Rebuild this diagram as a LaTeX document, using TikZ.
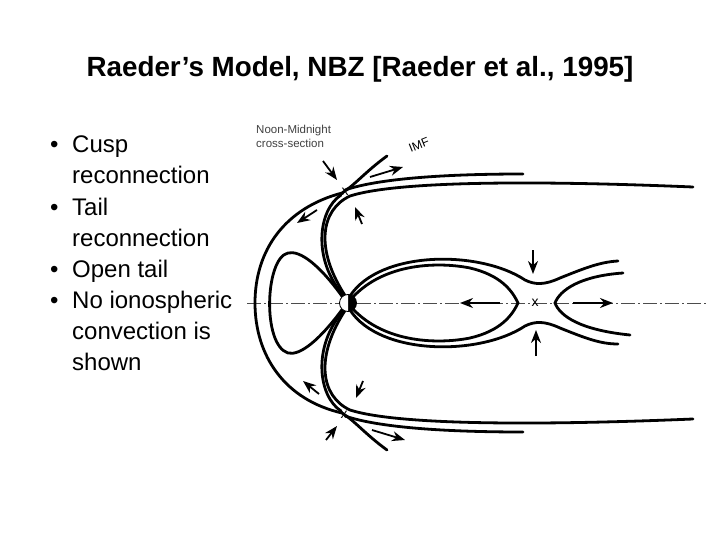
\documentclass[tikz,border=0pt]{standalone}
\usepackage{fontspec}
\setmainfont{Liberation Sans}
\usetikzlibrary{arrows.meta}
\begin{document}
\begin{tikzpicture}[x=1pt,y=-1pt,
  fl/.style={line width=2.8pt,line cap=round},
  ar/.style={line width=1.8pt,-{Stealth[length=13pt,width=10pt]}},
  bt/.style={anchor=base west,font=\fontsize{24}{28}\selectfont,inner sep=0pt}]
\useasboundingbox (0,0) rectangle (720,540);
\node[anchor=base,font=\bfseries\fontsize{27.8}{32}\selectfont,inner sep=0pt] (title) at (360,77) {Raeder’s Model, NBZ [Raeder et al., 1995]};
\node[bt] (d1) at (50,153) {•};
\node[bt] (t1) at (72,153) {Cusp};
\node[bt] (t1b) at (72,184) {reconnection};
\node[bt] (d2) at (50,215) {•};
\node[bt] (t2) at (72,215) {Tail};
\node[bt] (t2b) at (72,246) {reconnection};
\node[bt] (d3) at (50,277) {•};
\node[bt] (t3) at (72,277) {Open tail};
\node[bt] (d4) at (50,308) {•};
\node[bt] (t4) at (72,308) {No ionospheric};
\node[bt] (t4b) at (72,339) {convection is};
\node[bt] (t4c) at (72,370) {shown};
\node[anchor=north west,font=\fontsize{11.5}{14}\selectfont,align=left,inner sep=0pt,text=black!75] (lab) at (256,125) {Noon-Midnight\\cross-section};
\node[rotate=22,font=\fontsize{12}{12}\selectfont,inner sep=0pt] (imf) at (419,145) {IMF};
% axis
\draw[line width=0.8pt,dash pattern=on 14pt off 3pt on 2pt off 3pt,black!70] (247,303) -- (706,303);
% outer arc through cusp X points
\draw[fl] (387,156) .. controls (365,172) and (355,185) .. (342,193)
  .. controls (285,208) and (255,250) .. (255,303)
  .. controls (255,356) and (285,400) .. (342,413)
  .. controls (355,421) and (365,434) .. (387,450);
% lines from X to right
\draw[fl] (345,190) .. controls (380,178) and (450,174) .. (523,174);
\draw[fl] (345,416) .. controls (380,428) and (450,432) .. (523,432);
% long magnetopause lines
\draw[fl] (693,187) .. controls (550,181) and (400,180) .. (350,196)
  .. controls (320,210) and (315,250) .. (346,297);
\draw[fl] (693,419) .. controls (550,425) and (400,426) .. (350,410)
  .. controls (320,396) and (315,356) .. (346,309);
% inner lines from X to Earth
\draw[fl] (341,195) .. controls (318,210) and (312,260) .. (344,296);
\draw[fl] (341,411) .. controls (318,396) and (312,346) .. (344,310);
% dayside loop
\draw[fl] (344,299) .. controls (320,265) and (300,250) .. (288,253)
  .. controls (265,258) and (262,345) .. (288,353)
  .. controls (300,356) and (320,340) .. (344,307);
% tail inner loop
\draw[fl] (352,298) .. controls (385,262) and (440,262) .. (470,268)
  .. controls (500,275) and (512,290) .. (518,303)
  .. controls (512,316) and (500,331) .. (470,338)
  .. controls (440,344) and (385,344) .. (352,308);
% tail outer lines
\draw[fl] (350,296) .. controls (380,250) and (480,250) .. (525,280)
  .. controls (535,285) and (545,285) .. (560,278)
  .. controls (585,268) and (600,262) .. (618,261);
\draw[fl] (350,310) .. controls (380,356) and (480,356) .. (525,326)
  .. controls (535,321) and (545,321) .. (560,328)
  .. controls (585,338) and (600,344) .. (618,344);
% right loop
\draw[fl] (623,273) .. controls (580,276) and (560,290) .. (555,303)
  .. controls (560,316) and (580,330) .. (630,335);
% earth
\fill[black] (348,303) circle (8.5pt);
\fill[white] (348,294.5) arc (90:270:8.5pt) -- cycle;
\draw[line width=0.8pt] (348,303) circle (8.5pt);
% X marks
\foreach \p in {(535,303),(345,192),(344,415)} \node[font=\fontsize{14}{14}\selectfont,inner sep=0pt] at \p {x};
% arrows
\draw[ar] (533,250) -- (533,274);
\draw[ar] (536,356) -- (536,330);
\draw[ar] (500,303) -- (460,303);
\draw[ar] (573,303) -- (613,303);
\draw[ar] (323,161) -- (337,180);
\draw[ar] (362,224) -- (355,207);
\draw[ar] (317,210) -- (297,223);
\draw[ar] (370,177) -- (403,167);
\draw[ar] (363,381) -- (356,398);
\draw[ar] (319,394) -- (303,381);
\draw[ar] (326,440) -- (337,426);
\draw[ar] (372,430) -- (405,440);
\end{tikzpicture}
\end{document}
